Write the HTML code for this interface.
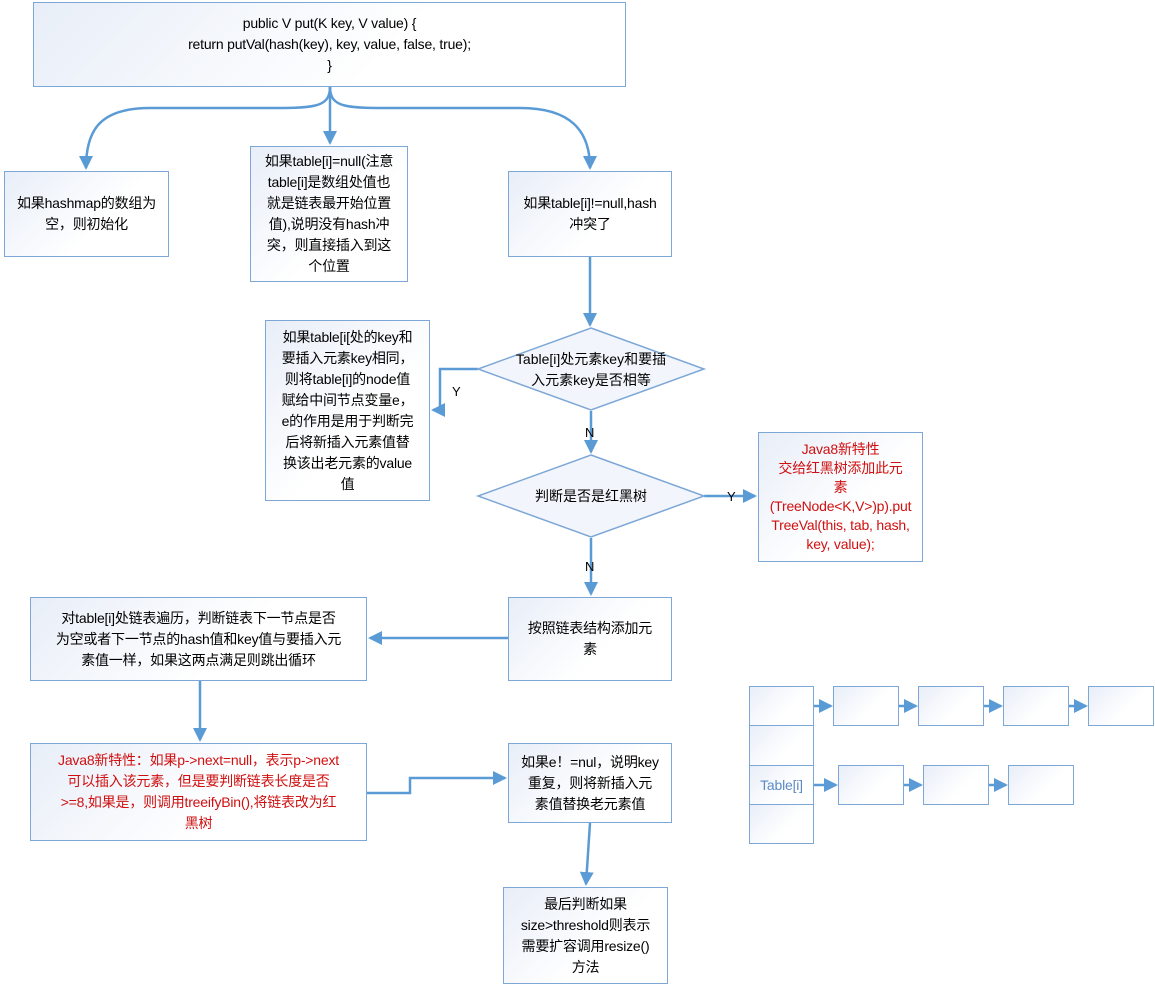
<!DOCTYPE html>
<html><head><meta charset="utf-8"><style>
body{margin:0;width:1155px;height:985px;background:#fff;position:relative;overflow:hidden;font-family:"Liberation Sans Narrow","Liberation Sans","Noto Sans CJK SC",sans-serif;font-size:14px;color:#000}
.b{position:absolute;box-sizing:border-box;border:1.5px solid #7ca7d6;background:linear-gradient(135deg,#e8eef8,#fff 60%);display:flex;align-items:center;justify-content:center;text-align:center;line-height:21px;padding:2px 2px;white-space:nowrap;letter-spacing:-0.2px}
.r{color:#d01010}
.t{position:absolute;font-size:13px}
</style></head><body>
<svg width="1155" height="985" style="position:absolute;left:0;top:0">
<defs><marker id="a" markerWidth="14" markerHeight="14" refX="12" refY="7" orient="auto" markerUnits="userSpaceOnUse"><path d="M0,0L14,7L0,14z" fill="#5b9bd5"/></marker></defs>
<g stroke="#5b9bd5" stroke-width="2.5" fill="none">
<path d="M330,87 C330,110 310,108 250,108 L150,108 C100,108 86,130 86,168" marker-end="url(#a)"/>
<path d="M330,87 L330,143" marker-end="url(#a)"/>
<path d="M330,87 C330,110 350,108 410,108 L520,108 C570,108 590,130 590,168" marker-end="url(#a)"/>
<path d="M590,257 L590,325" marker-end="url(#a)"/>
<path d="M478,369 L440,369 L440,410 L433,410" marker-end="url(#a)"/>
<path d="M591,411 L591,452" marker-end="url(#a)"/>
<path d="M704,496 L755,496" marker-end="url(#a)"/>
<path d="M591,538 L591,594" marker-end="url(#a)"/>
<path d="M508,638 L370,638" marker-end="url(#a)"/>
<path d="M200,681 L200,740" marker-end="url(#a)"/>
<path d="M367,793 L410,793 L410,778 L505,778" marker-end="url(#a)"/>
<path d="M590,823 L586,884" marker-end="url(#a)"/>
<path d="M813,706 L831,706" marker-end="url(#a)"/>
<path d="M898,706 L916,706" marker-end="url(#a)"/>
<path d="M983,706 L1001,706" marker-end="url(#a)"/>
<path d="M1068,706 L1086,706" marker-end="url(#a)"/>
<path d="M813,785 L836,785" marker-end="url(#a)"/>
<path d="M903,785 L921,785" marker-end="url(#a)"/>
<path d="M988,785 L1006,785" marker-end="url(#a)"/>
</g>
<g stroke="#7ca7d6" stroke-width="1.5" fill="#f2f5fb">
<polygon points="591,328 704,369 591,410 478,369"/>
<polygon points="591,455 704,496 591,537 478,496"/>
</g>
<text x="591" y="364" text-anchor="middle" font-size="14" font-family="Liberation Sans Narrow,Liberation Sans,Noto Sans CJK SC,sans-serif">Table[i]处元素key和要插</text>
<text x="591" y="385" text-anchor="middle" font-size="14" font-family="Liberation Sans Narrow,Liberation Sans,Noto Sans CJK SC,sans-serif">入元素key是否相等</text>
<text x="591" y="501" text-anchor="middle" font-size="14" font-family="Liberation Sans Narrow,Liberation Sans,Noto Sans CJK SC,sans-serif">判断是否是红黑树</text>
</svg>
<div class="t" style="left:452px;top:384px">Y</div>
<div class="t" style="left:585px;top:425px">N</div>
<div class="t" style="left:727px;top:489px">Y</div>
<div class="t" style="left:585px;top:559px">N</div>
<div class="b" style="left:33px;top:2px;width:593px;height:85px">public V put(K key, V value) {<br>return putVal(hash(key), key, value, false, true);<br>}</div>
<div class="b" style="left:4px;top:171px;width:165px;height:86px">如果hashmap的数组为<br>空，则初始化</div>
<div class="b" style="left:250px;top:146px;width:158px;height:136px">如果table[i]=null(注意<br>table[i]是数组处值也<br>就是链表最开始位置<br>值),说明没有hash冲<br>突，则直接插入到这<br>个位置</div>
<div class="b" style="left:508px;top:171px;width:164px;height:86px">如果table[i]!=null,hash<br>冲突了</div>
<div class="b" style="left:265px;top:320px;width:165px;height:181px">如果table[i[处的key和<br>要插入元素key相同，<br>则将table[i]的node值<br>赋给中间节点变量e，<br>e的作用是用于判断完<br>后将新插入元素值替<br>换该出老元素的value<br>值</div>
<div class="b r" style="left:758px;top:432px;width:165px;height:130px;line-height:19px">Java8新特性<br>交给红黑树添加此元<br>素<br>(TreeNode&lt;K,V&gt;)p).put<br>TreeVal(this, tab, hash,<br>key, value);</div>
<div class="b" style="left:508px;top:597px;width:164px;height:84px">按照链表结构添加元<br>素</div>
<div class="b" style="left:30px;top:597px;width:337px;height:84px">对table[i]处链表遍历，判断链表下一节点是否<br>为空或者下一节点的hash值和key值与要插入元<br>素值一样，如果这两点满足则跳出循环</div>
<div class="b r" style="left:30px;top:743px;width:337px;height:98px">Java8新特性：如果p->next=null，表示p->next<br>可以插入该元素，但是要判断链表长度是否<br>>=8,如果是，则调用treeifyBin(),将链表改为红<br>黑树</div>
<div class="b" style="left:508px;top:743px;width:164px;height:80px">如果e！=nul，说明key<br>重复，则将新插入元<br>素值替换老元素值</div>
<div class="b" style="left:503px;top:887px;width:165px;height:97px">最后判断如果<br>size>threshold则表示<br>需要扩容调用resize()<br>方法</div>
<div class="b" style="left:749px;top:686px;width:65px;height:40px"></div>
<div class="b" style="left:749px;top:725px;width:65px;height:41px"></div>
<div class="b" style="left:749px;top:765px;width:65px;height:40px;color:#5b8ac6">Table[i]</div>
<div class="b" style="left:749px;top:804px;width:65px;height:40px"></div>
<div class="b" style="left:833px;top:686px;width:66px;height:40px"></div>
<div class="b" style="left:918px;top:686px;width:66px;height:40px"></div>
<div class="b" style="left:1003px;top:686px;width:66px;height:40px"></div>
<div class="b" style="left:1088px;top:686px;width:66px;height:40px"></div>
<div class="b" style="left:838px;top:765px;width:66px;height:40px"></div>
<div class="b" style="left:923px;top:765px;width:66px;height:40px"></div>
<div class="b" style="left:1008px;top:765px;width:66px;height:40px"></div>
</body></html>
